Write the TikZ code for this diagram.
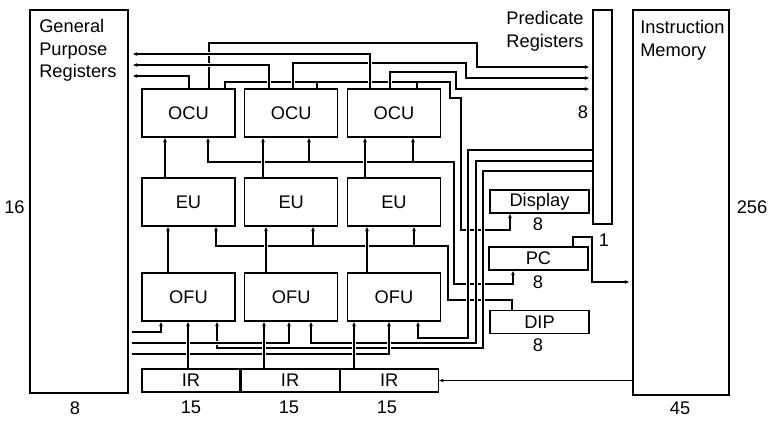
\documentclass[tikz,border=0pt]{standalone}
\usepackage{fontspec}
\setmainfont{Liberation Sans}
\usetikzlibrary{arrows.meta, positioning}

\tikzset{
    blk/.style={
        rectangle,
        draw=black,
        line width=0.8pt,
        inner sep=0pt,
        font=\fontsize{13.7}{17}\selectfont
    },
    unit/.style={
        blk,
        minimum width=69.75pt,
        minimum height=36pt
    },
    iobox/.style={
        blk,
        minimum width=74.25pt,
        minimum height=17.25pt
    },
    irbox/.style={
        blk,
        minimum width=73.5pt,
        minimum height=17.25pt
    },
    txt/.style={
        inner sep=0pt,
        font=\fontsize{13.7}{17}\selectfont
    },
    link/.style={
        draw=black,
        line width=0.8pt,
        line cap=rect
    },
    wire/.style={
        link,
        -{Latex[length=3.5pt, width=3pt]}
    },
    hop/.style={
        preaction={draw=white, line width=3pt, -, line cap=butt, shorten <=2pt, shorten >=2pt}
    }
}

\begin{document}
\begin{tikzpicture}[x=0.75pt, y=-0.75pt]
\useasboundingbox (0,0) rectangle (776,424);

% register files and memory
\node[blk, minimum width=73.5pt, minimum height=287.25pt] (gpr) at (79,201.5) {};
\node[blk, minimum width=14.25pt, minimum height=160.5pt] (pred) at (602.5,117) {};
\node[blk, minimum width=72pt, minimum height=288.75pt] (imem) at (681,202.5) {};

\node[txt, anchor=north west, align=left] (gprname) at (39,19) {General\\Purpose\\Registers};
\node[txt, align=center] (predname) at (545,31) {Predicate\\Registers};
\node[txt, anchor=north west, align=left] (imemname) at (640,20) {Instruction\\Memory};

% functional units
\node[unit] (ocu1) at (188.5,113) {OCU};
\node[unit, right=6.5pt of ocu1] (ocu2) {OCU};
\node[unit, right=6.5pt of ocu2] (ocu3) {OCU};
\node[unit] (eu1) at (188.5,202) {EU};
\node[unit, right=6.5pt of eu1] (eu2) {EU};
\node[unit, right=6.5pt of eu2] (eu3) {EU};
\node[unit] (ofu1) at (188.5,297) {OFU};
\node[unit, right=6.5pt of ofu1] (ofu2) {OFU};
\node[unit, right=6.5pt of ofu2] (ofu3) {OFU};

\node[irbox] (ir1) at (191,380.5) {IR};
\node[irbox, right=0pt of ir1] (ir2) {IR};
\node[irbox, right=0pt of ir2] (ir3) {IR};

\node[iobox] (disp) at (539.5,201.5) {Display};
\node[iobox] (pc) at (538.5,258.5) {PC};
\node[iobox] (dip) at (539.5,322) {DIP};

% widths
\node[txt] (w16) at (14.5,207) {16};
\node[txt] (w8g) at (75,408) {8};
\node[txt] (w8p) at (583,112) {8};
\node[txt] (w256) at (752,207) {256};
\node[txt] (w45) at (680,408) {45};
\node[txt] (w1) at (604,240) {1};
\node[txt] (w8d) at (538,224) {8};
\node[txt] (w8c) at (538,282) {8};
\node[txt] (w8i) at (538,345) {8};
\node[txt] (w15a) at (191,407) {15};
\node[txt] (w15b) at (289,407) {15};
\node[txt] (w15c) at (387,407) {15};

\coordinate (gin) at ([xshift=3pt]gpr.east);
\coordinate (pin) at ([xshift=-2.25pt]pred.west);
\coordinate (iin) at ([xshift=-2.25pt]imem.west);

% OCU results
\draw[wire] (225,0 |- ocu1.north) |- (450,82) |- (461,98) |- (510,230) -- (510,0 |- disp.south);
\draw[link] (317,0 |- ocu2.north) -- (317,82);
\draw[link] (417,0 |- ocu3.north) -- (417,82);
\draw[wire] (209,0 |- ocu1.north) |- (477,43) |- (pin |- 0,67);
\draw[wire, hop] (293,0 |- ocu2.north) |- (466,63) |- (pin |- 0,78);
\draw[wire, hop] (390,0 |- ocu3.north) |- (456,72) |- (pin |- 0,89);
\draw[wire, hop] (370,0 |- ocu3.north) |- (gin |- 0,54);
\draw[wire, hop] (269,0 |- ocu2.north) |- (gin |- 0,65);
\draw[wire] (189,0 |- ocu1.north) |- (gin |- 0,76);

% operand buses
\draw[wire] (208,162) -- (454,162) |- (513,284) -- (513,0 |- pc.south);
\foreach \x/\u in {208/ocu1, 309/ocu2, 413/ocu3}
    \draw[wire] (\x,162) -- (\x,0 |- \u.south);
\draw[link] (216,246) -- (448,246) |- (512,300) -- (512,0 |- dip.north);
\foreach \x/\u in {216/eu1, 313/eu2, 414/eu3}
    \draw[wire] (\x,246) -- (\x,0 |- \u.south);

\foreach \x/\a/\b in {165/eu1/ocu1, 263/eu2/ocu2, 365/eu3/ocu3}
    \draw[wire, hop] (\x,0 |- \a.north) -- (\x,0 |- \b.south);
\foreach \x/\a/\b in {168/ofu1/eu1, 266/ofu2/eu2, 367/ofu3/eu3}
    \draw[wire, hop] (\x,0 |- \a.north) -- (\x,0 |- \b.south);

% predicates into OFUs
\draw[wire, hop] (pred.west |- 0,150) -| (468,338) -| (418,0 |- ofu3.south);
\draw[wire, hop] (pred.west |- 0,161) -| (476,343) -| (311,0 |- ofu2.south);
\draw[wire, hop] (pred.west |- 0,171) -| (483,348) -| (217,0 |- ofu1.south);

% registers into OFUs
\draw[wire] (gin |- 0,332) -| (161,0 |- ofu1.south);
\draw[wire, hop] (gin |- 0,343) -| (289,0 |- ofu2.south);
\draw[wire, hop] (gin |- 0,354) -| (389,0 |- ofu3.south);

\foreach \x/\a/\b in {188/ir1/ofu1, 264/ir2/ofu2, 354/ir3/ofu3}
    \draw[wire, hop] (\x,0 |- \a.north) -- (\x,0 |- \b.south);

% program counter and fetch
\draw[wire] (573,0 |- pc.north) |- (592,237) |- (iin |- 0,282);
\draw[wire] (imem.west |- ir3.east) -- (ir3.east);

\end{tikzpicture}
\end{document}
